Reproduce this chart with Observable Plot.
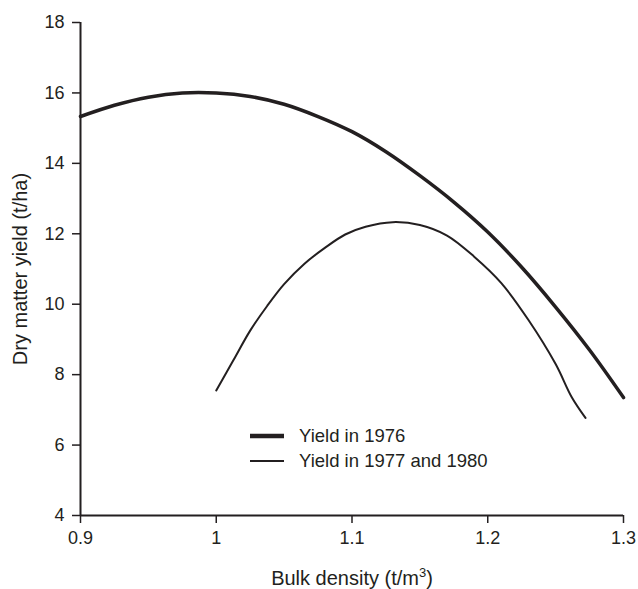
<!DOCTYPE html>
<html>
<head>
<meta charset="utf-8">
<script src="https://cdn.jsdelivr.net/npm/d3@7"></script>
<script src="https://cdn.jsdelivr.net/npm/@observablehq/plot@0.6"></script>
<style>
  html, body { margin: 0; padding: 0; background: #fff; }
  #wrap { position: relative; width: 638px; height: 589px; font-family: "Liberation Sans", Arial, sans-serif; color: #231f20; }
  #legend { position: absolute; left: 250px; top: 423px; font-size: 18.5px; }
  .row { display: flex; align-items: center; height: 25px; }
  .row svg { margin-right: 15px; }
</style>
</head>
<body>
<div id="wrap"></div>
<script>
// Bulk density (t/m3) and yield (t/ha)
const density1976 = [0.9, 0.925, 0.95, 0.975, 1.0, 1.025, 1.05, 1.075, 1.1, 1.125, 1.15, 1.175, 1.2, 1.225, 1.25, 1.275, 1.3];
const yield1976   = [15.33, 15.65, 15.88, 16.0, 16.0, 15.9, 15.68, 15.33, 14.9, 14.33, 13.65, 12.9, 12.05, 11.05, 9.92, 8.7, 7.35];

const density1977 = [1.0, 1.0125, 1.025, 1.0375, 1.05, 1.065, 1.08, 1.095, 1.11, 1.13, 1.15, 1.17, 1.19, 1.21, 1.23, 1.25, 1.262, 1.272];
const yield1977   = [7.55, 8.4, 9.25, 9.95, 10.57, 11.15, 11.6, 11.98, 12.2, 12.33, 12.25, 11.95, 11.35, 10.6, 9.55, 8.3, 7.35, 6.77];

const xTicks = [0.9, 1, 1.1, 1.2, 1.3];
const yTicks = [4, 6, 8, 10, 12, 14, 16, 18];
const seriesNames = ["Yield in 1976", "Yield in 1977 and 1980"];
const xTitle = "Bulk density (t/m3)";
const yTitle = "Dry matter yield (t/ha)";

const data1976 = density1976.map((x, i) => ({x, y: yield1976[i]}));
const data1977 = density1977.map((x, i) => ({x, y: yield1977[i]}));
const ink = "#231f20";

const chart = Plot.plot({
  width: 638,
  height: 589,
  marginLeft: 80,
  marginRight: 15,
  marginTop: 22,
  marginBottom: 74,
  style: {fontFamily: "'Liberation Sans', Arial, sans-serif", fontSize: "18px", color: ink, background: "white"},
  x: {domain: [0.9, 1.3]},
  y: {domain: [4, 18]},
  marks: [
    Plot.axisX({ticks: xTicks, tickFormat: d => String(d), tickSize: 8, tickPadding: 8, strokeWidth: 1.5, label: null}),
    Plot.axisY({ticks: yTicks, tickFormat: d => String(d), tickSize: 8, tickPadding: 8, strokeWidth: 1.5, label: null}),
    Plot.ruleX([0.9], {stroke: ink, strokeWidth: 2}),
    Plot.ruleY([4], {stroke: ink, strokeWidth: 2}),
    Plot.line(data1976, {x: "x", y: "y", curve: "catmull-rom", stroke: ink, strokeWidth: 3.5}),
    Plot.line(data1977, {x: "x", y: "y", curve: "catmull-rom", stroke: ink, strokeWidth: 2}),
    Plot.text([xTitle], {frameAnchor: "bottom", lineAnchor: "middle", textAnchor: "middle", dy: 63, fontSize: 20, fill: ink}),
    Plot.text([yTitle], {frameAnchor: "left", rotate: -90, textAnchor: "middle", lineAnchor: "middle", dx: -60, fontSize: 20, fill: ink})
  ]
});

// superscript the "3" in the x title
chart.querySelectorAll("text").forEach(t => {
  if (t.textContent === xTitle) {
    t.textContent = "";
    const ns = "http://www.w3.org/2000/svg";
    const a = document.createElementNS(ns, "tspan");
    a.textContent = "Bulk density (t/m";
    const s = document.createElementNS(ns, "tspan");
    s.textContent = "3";
    s.setAttribute("font-size", "13");
    s.setAttribute("dy", "-8");
    const b = document.createElementNS(ns, "tspan");
    b.textContent = ")";
    b.setAttribute("dy", "8");
    t.append(a, s, b);
  }
});

const wrap = document.getElementById("wrap");
wrap.appendChild(chart);

const legend = document.createElement("div");
legend.id = "legend";
const widths = [4.5, 2];
seriesNames.forEach((name, i) => {
  const row = document.createElement("div");
  row.className = "row";
  row.innerHTML = `<svg width="34" height="10"><line x1="0" x2="34" y1="5" y2="5" stroke="${ink}" stroke-width="${widths[i]}"/></svg><span>${name}</span>`;
  legend.appendChild(row);
});
wrap.appendChild(legend);
</script>
</body>
</html>
